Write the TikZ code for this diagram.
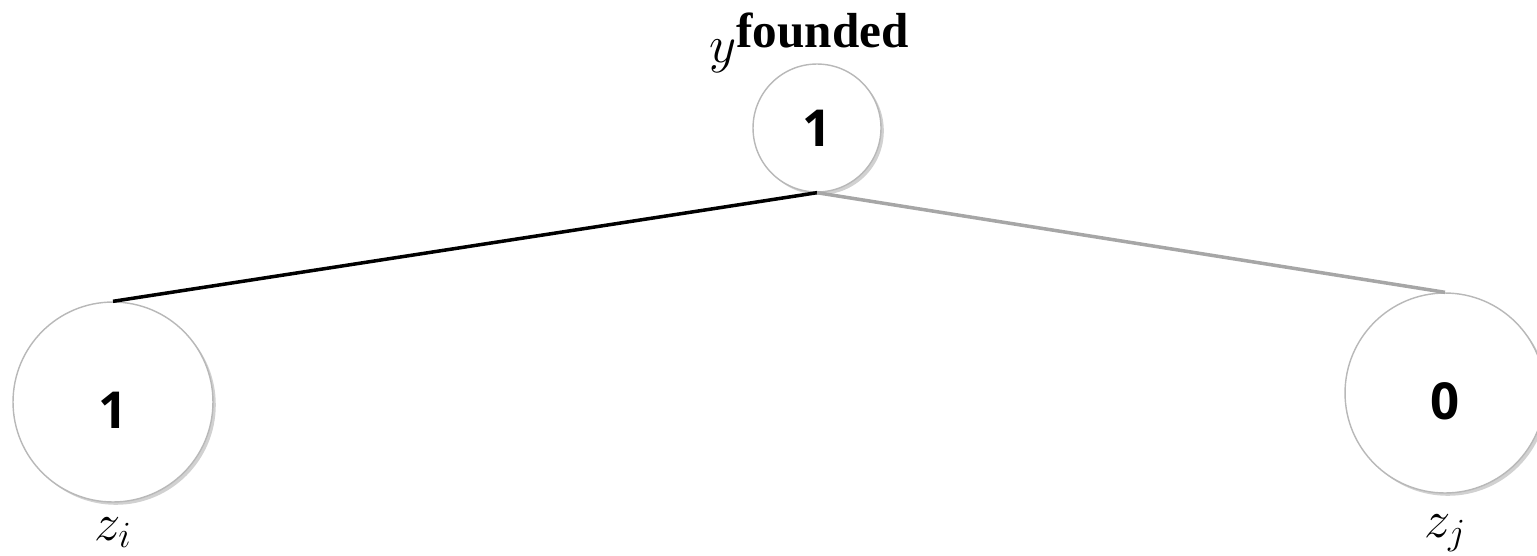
\documentclass[tikz,border=0pt]{standalone}
\usepackage{fix-cm}
\usepackage{fontspec}
\setmainfont{Liberation Serif}
\newfontfamily\numfont{Open Sans}
\usetikzlibrary{shadows}
\definecolor{ringgray}{HTML}{B8B8B8}
\definecolor{edgegray}{HTML}{A6A6A6}
\newcommand{\lowdigit}[1]{\raisebox{-4.6pt}[\height][\depth]{#1}}
\tikzset{
  valnode/.style={circle, draw=ringgray, line width=0.8pt, fill=white, inner sep=0pt,
    drop shadow={shadow xshift=1.6pt, shadow yshift=-1.6pt, opacity=0.3, fill=black!60},
    font=\numfont\bfseries\fontsize{29}{32}\selectfont},
  smallnode/.style={valnode, minimum size=2.56cm},
  bignode/.style={valnode, minimum size=4cm},
  edgeblack/.style={draw=black, line width=2pt},
  edgegrey/.style={draw=edgegray, line width=2pt},
  varlabel/.style={inner sep=0pt, font=\fontsize{30}{34}\selectfont}
}
\begin{document}
\begin{tikzpicture}[x=0.02cm, y=-0.02cm]
\useasboundingbox (0,0) rectangle (1537,555);
\node[smallnode] (top) at (817,128) {1};
\node[bignode] (left) at (113,402) {\lowdigit{1}};
\node[bignode] (right) at (1445,393) {\lowdigit{0}};
\draw[edgeblack] (top.south) -- (left.north);
\draw[edgegrey] (top.south) -- (right.north);
\node[varlabel, anchor=base west] (lbl) at (709,62) {$y$\raisebox{8.5pt}{\bfseries\fontsize{28}{30}\selectfont founded}};
\node[varlabel, anchor=base] (zi) at (113,540) {$z_i$};
\node[varlabel, anchor=base] (zj) at (1445,537) {$z_j$};
\end{tikzpicture}
\end{document}
